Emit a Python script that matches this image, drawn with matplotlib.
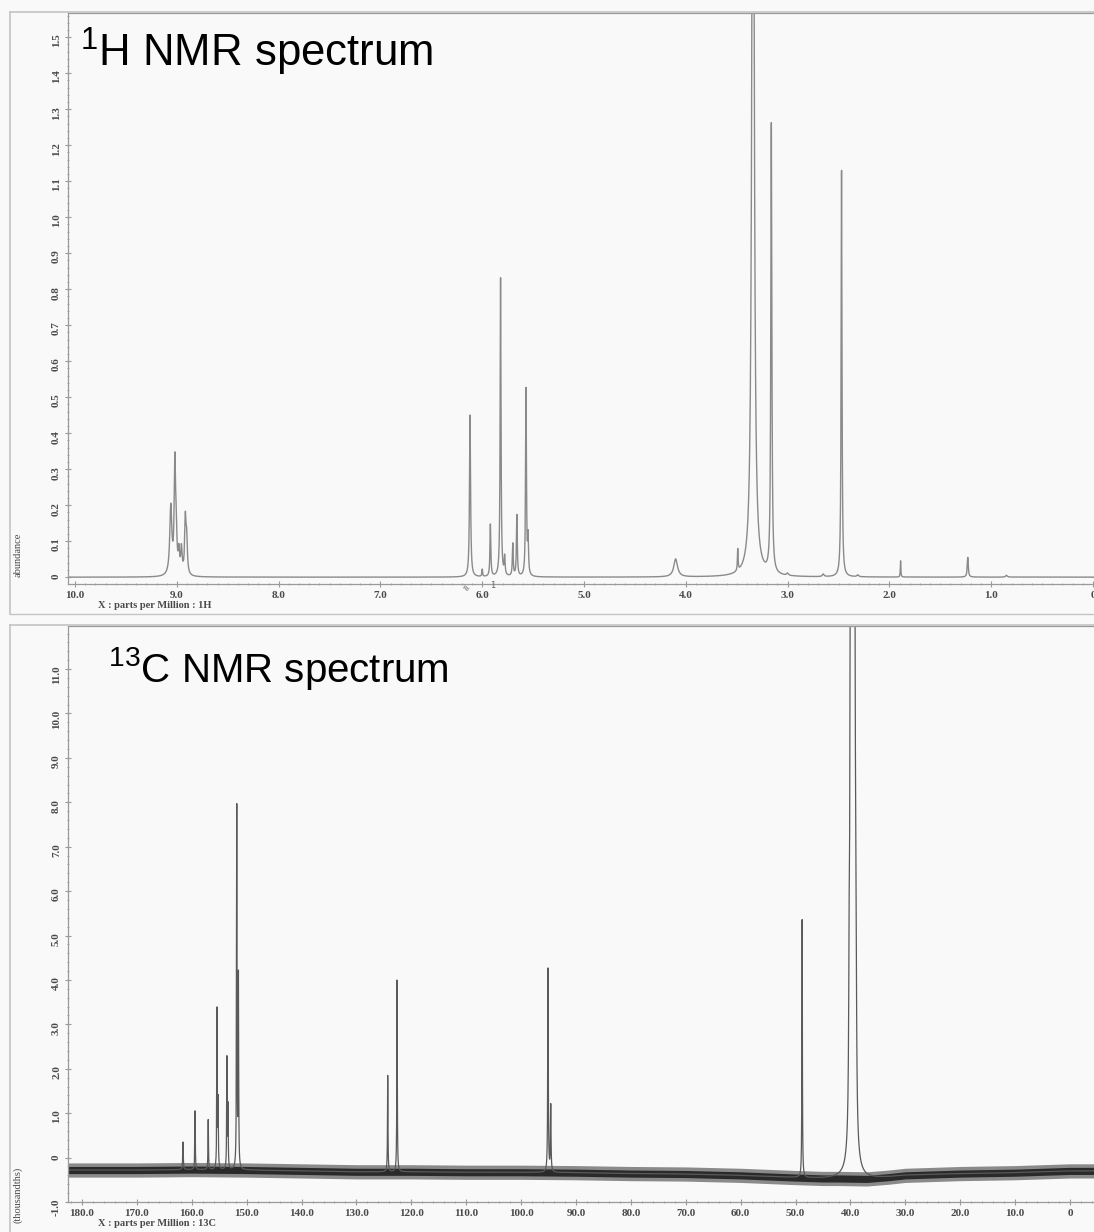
import matplotlib
matplotlib.use('Agg')
import matplotlib.pyplot as plt
import numpy as np
from matplotlib.ticker import MultipleLocator, FuncFormatter
from matplotlib.lines import Line2D

W, H = 1094, 1232

# 1H spectrum peaks: position (ppm), height (abundance), half width (ppm)
h_ppm    = [9.06, 9.02, 9.007, 8.98, 8.955, 8.917, 8.904,
            6.12, 6.00, 5.92, 5.82, 5.78, 5.70, 5.66, 5.57, 5.55,
            4.10, 3.49, 3.34, 3.16, 3.00, 2.65, 2.47, 2.31, 1.89, 1.23, 0.85]
h_height = [0.19, 0.30, 0.10, 0.06, 0.07, 0.15, 0.09,
            0.45, 0.02, 0.145, 0.83, 0.05, 0.09, 0.17, 0.52, 0.10,
            0.05, 0.06, 3.0, 1.25, 0.006, 0.007, 1.13, 0.005, 0.045, 0.055, 0.005]
h_width  = [0.012, 0.008, 0.008, 0.008, 0.008, 0.008, 0.008,
            0.006, 0.004, 0.005, 0.005, 0.005, 0.005, 0.005, 0.005, 0.005,
            0.022, 0.004, 0.012, 0.006, 0.01, 0.01, 0.005, 0.01, 0.003, 0.006, 0.01]

# 13C spectrum peaks: position (ppm), top value (thousandths), half width (ppm)
c_ppm    = [161.6, 159.4, 157.0, 155.4, 155.2, 153.6, 153.4, 151.8, 151.5,
            124.3, 122.6, 95.1, 94.6, 48.8]
c_top    = [0.35, 1.05, 0.85, 3.3, 1.2, 2.2, 1.1, 7.85, 4.0,
            1.85, 4.0, 4.25, 1.15, 5.35]
c_width  = [0.06, 0.05, 0.05, 0.05, 0.05, 0.05, 0.05, 0.05, 0.05,
            0.05, 0.05, 0.06, 0.06, 0.05]

# DMSO-d6 septet (solvent), off scale
dmso_center = 39.6
dmso_split = 0.21
dmso_rel = [1, 3, 6, 7, 6, 3, 1]
dmso_amp = 3.0
dmso_width = 0.1

# noisy baseline of the 13C spectrum: level and half thickness of the noise band
c_base_ppm   = [183, 170, 160, 150, 140, 130, 120, 110, 100, 90, 80, 70, 60, 50, 45, 42, 37, 33, 30, 20, 10, 0, -5]
c_base_level = [-0.28, -0.28, -0.27, -0.28, -0.3, -0.32, -0.32, -0.33, -0.33, -0.34, -0.36, -0.37, -0.4, -0.45,
                -0.47, -0.47, -0.48, -0.44, -0.4, -0.36, -0.34, -0.3, -0.3]
c_noise_half = 0.16

h_xticks = [10, 9, 8, 7, 6, 5, 4, 3, 2, 1, 0]
c_xticks = [180, 170, 160, 150, 140, 130, 120, 110, 100, 90, 80, 70, 60, 50, 40, 30, 20, 10, 0]


def lorentz(x, pos, amp, hw):
    return amp / (1.0 + ((x - pos) / hw) ** 2)


def fmt(v, pos):
    if abs(v) < 1e-9:
        return '0'
    return '%.1f' % v


def px_axes(l, t, r, b):
    return [l / W, 1 - b / H, (r - l) / W, (b - t) / H]


plt.rcParams['mathtext.fontset'] = 'custom'
plt.rcParams['mathtext.rm'] = 'Liberation Sans'
plt.rcParams['mathtext.default'] = 'regular'

fig = plt.figure(figsize=(W / 100, H / 100), dpi=100, facecolor='#f9f9f9')

tick_font = dict(family='Liberation Serif', weight='bold', size=8)
spine_col = '#9a9a9a'
txt_col = '#4a4a4a'


def style_axes(ax):
    ax.set_facecolor('none')
    ax.spines['right'].set_visible(False)
    for s in ['left', 'bottom', 'top']:
        ax.spines[s].set_color(spine_col)
        ax.spines[s].set_linewidth(0.9)
    ax.tick_params(axis='both', which='both', colors=spine_col, direction='inout')
    ax.tick_params(axis='both', which='major', length=4, labelcolor=txt_col)
    ax.tick_params(axis='both', which='minor', length=2)
    ax.tick_params(axis='y', labelrotation=90, pad=3)
    ax.tick_params(axis='x', pad=3)
    ax.xaxis.set_major_formatter(FuncFormatter(fmt))
    ax.yaxis.set_major_formatter(FuncFormatter(fmt))
    for lab in ax.get_xticklabels() + ax.get_yticklabels():
        lab.set_fontproperties(matplotlib.font_manager.FontProperties(**tick_font))


# ---------------- 1H panel ----------------
ax1 = fig.add_axes(px_axes(68, 13, 1094, 584))
xh = np.linspace(-0.3, 10.3, 30001)
yh = np.zeros_like(xh)
for p, a, w in zip(h_ppm, h_height, h_width):
    yh += lorentz(xh, p, a, w)
ax1.plot(xh, yh, color='#8a8a8a', lw=1.0)
ax1.set_xlim(10.07, -0.01)
ax1.set_ylim(-0.019, 1.567)
ax1.set_xticks(h_xticks)
ax1.xaxis.set_minor_locator(MultipleLocator(0.1))
ax1.yaxis.set_major_locator(MultipleLocator(0.1))
ax1.yaxis.set_minor_locator(MultipleLocator(0.02))
style_axes(ax1)
fig.text(80 / W, 1 - 67 / H, r'$^{1}$H NMR spectrum', family='Liberation Sans', fontsize=31.5,
         color='black', va='baseline', ha='left')
fig.text(98 / W, 1 - 605 / H, 'X : parts per Million : 1H', family='Liberation Serif',
         weight='bold', fontsize=7.5, color=txt_col, va='center', ha='left')
fig.text(18 / W, 1 - 555 / H, 'abundance', family='Liberation Serif', fontsize=7.5,
         color=txt_col, rotation=90, va='center', ha='center')
# integration marks under the 6 ppm peaks
ax1.text(6.17, -0.012, '≈', fontsize=7, color='#666', ha='center', va='top', rotation=-30)
ax1.text(5.90, -0.012, '1', fontsize=6, color='#666', ha='center', va='top')

# ---------------- 13C panel ----------------
ax2 = fig.add_axes(px_axes(68, 626, 1094, 1202))
xc = np.linspace(-6, 184, 40001)
base = np.interp(xc, c_base_ppm[::-1], c_base_level[::-1])
yc = base.copy()
for p, t, w in zip(c_ppm, c_top, c_width):
    lvl = np.interp(p, c_base_ppm[::-1], c_base_level[::-1])
    yc += lorentz(xc, p, t - lvl, w)
for k, r in enumerate(dmso_rel):
    yc += lorentz(xc, dmso_center + (k - 3) * dmso_split, r * dmso_amp, dmso_width)

ax2.fill_between(xc, base - c_noise_half, base + c_noise_half, color='#8a8a8a', lw=0)
ax2.fill_between(xc, base - c_noise_half * 0.5, base + c_noise_half * 0.5, color='#2a2a2a', lw=0)
ax2.plot(xc, yc, color='#5a5a5a', lw=0.9)
ax2.set_xlim(182.55, -4.37)
ax2.set_ylim(-1.0, 11.97)
ax2.set_xticks(c_xticks)
ax2.xaxis.set_minor_locator(MultipleLocator(2))
ax2.yaxis.set_major_locator(MultipleLocator(1.0))
ax2.yaxis.set_minor_locator(MultipleLocator(0.2))
style_axes(ax2)
fig.text(108 / W, 1 - 682 / H, r'$^{13}$C NMR spectrum', family='Liberation Sans', fontsize=29,
         color='black', va='baseline', ha='left')
fig.text(98 / W, 1 - 1224 / H, 'X : parts per Million : 13C', family='Liberation Serif',
         weight='bold', fontsize=7.5, color=txt_col, va='center', ha='left')
fig.text(18 / W, 1 - 1195 / H, '(thousandths)', family='Liberation Serif', fontsize=7.5,
         color=txt_col, rotation=90, va='center', ha='center')

# outer scan frames of the two panels
frame_col = '#c4c4c4'
for top, bot in [(12, 614), (625, 1232)]:
    fig.add_artist(Line2D([10 / W, 10 / W], [1 - top / H, 1 - bot / H], color=frame_col, lw=1.2))
    fig.add_artist(Line2D([10 / W, 1.0], [1 - top / H, 1 - top / H], color=frame_col, lw=1.2))
fig.add_artist(Line2D([10 / W, 1.0], [1 - 614 / H, 1 - 614 / H], color=frame_col, lw=1.0))

fig.savefig('out.png', dpi=100, facecolor=fig.get_facecolor())
